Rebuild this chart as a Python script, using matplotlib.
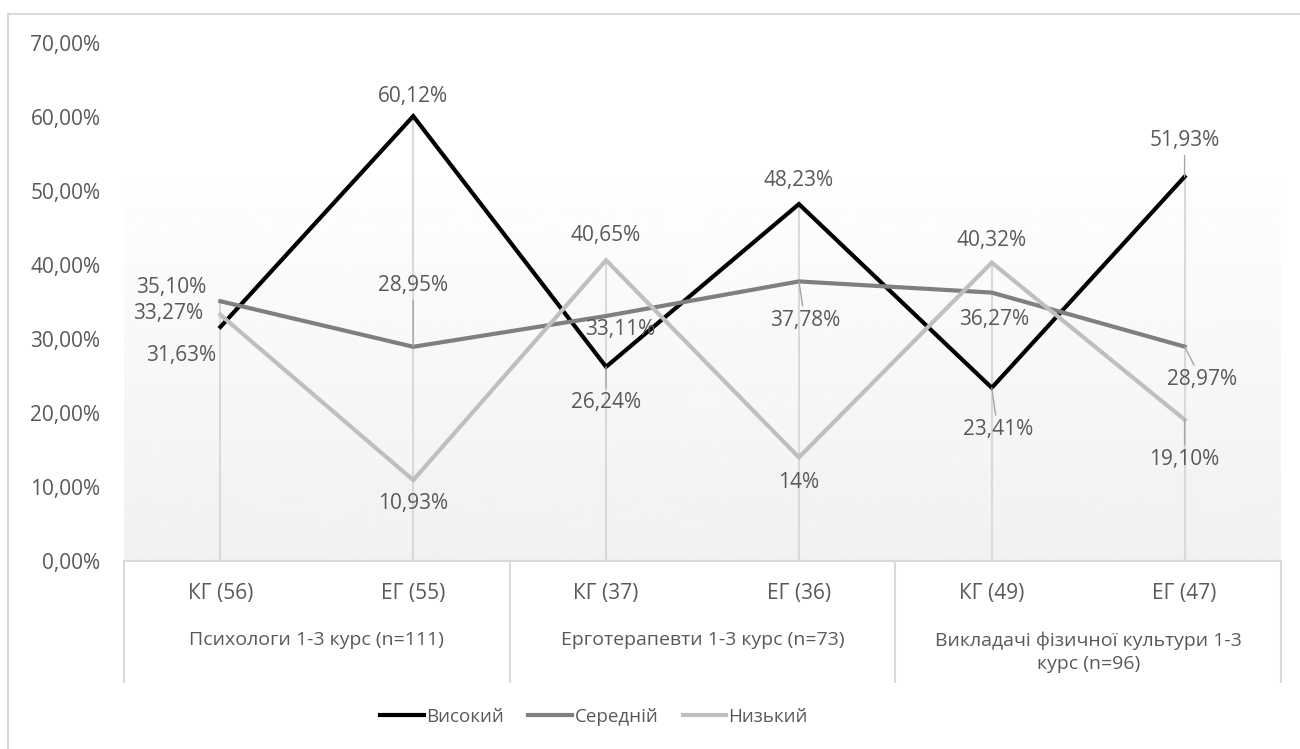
import numpy as np
import matplotlib
matplotlib.use("Agg")
import matplotlib.pyplot as plt
from matplotlib.lines import Line2D
from matplotlib.patches import Rectangle
from matplotlib.transforms import blended_transform_factory

plt.rcParams['font.family'] = ['Open Sans', 'DejaVu Sans']

# data
sub_labels = ['КГ (56)', 'ЕГ (55)', 'КГ (37)', 'ЕГ (36)', 'КГ (49)', 'ЕГ (47)']
group_labels = ['Психологи 1-3 курс (n=111)', 'Ерготерапевти 1-3 курс (n=73)',
                'Викладачі фізичної культури 1-3\nкурс (n=96)']
series_names = ['Високий', 'Середній', 'Низький']
high = [31.63, 60.12, 26.24, 48.23, 23.41, 51.93]
mid = [35.10, 28.95, 33.11, 37.78, 36.27, 28.97]
low = [33.27, 10.93, 40.65, 14.00, 40.32, 19.10]
high_txt = ['31,63%', '60,12%', '26,24%', '48,23%', '23,41%', '51,93%']
mid_txt = ['35,10%', '28,95%', '33,11%', '37,78%', '36,27%', '28,97%']
low_txt = ['33,27%', '10,93%', '40,65%', '14%', '40,32%', '19,10%']
y_ticks = [0, 10, 20, 30, 40, 50, 60, 70]

colors = ['#000000', '#7f7f7f', '#bfbfbf']
text_col = '#595959'
grid_col = '#d9d9d9'
fs = 15

# label offsets in pixels (dx, dy) and whether a leader line is drawn
high_off = [(-39, -29, 0), (0, 20, 0), (0, -36, 1), (0, 24, 0), (6, -42, 1), (0, 36, 1)]
mid_off = [(-49, 14, 0), (0, 61, 1), (14, -14, 0), (6, -39, 1), (2, -27, 0), (17, -33, 1)]
low_off = [(-52, 1, 0), (0, -23, 0), (0, 25, 0), (0, -25, 0), (0, 22, 0), (0, -40, 1)]

W, H = 1300, 749
fig = plt.figure(figsize=(W / 100, H / 100), dpi=100)
fig.patches.append(Rectangle((8 / W, -0.05), 1.1, 1.05 - 14 / H, transform=fig.transFigure,
                             fill=False, ec=grid_col, lw=1.5))

ax = fig.add_axes([124 / W, 1 - 561 / H, (1281 - 124) / W, (561 - 43) / H])
x = np.arange(len(sub_labels))
ax.set_xlim(-0.5, len(sub_labels) - 0.5)
ax.set_ylim(0, 70)

# gradient background: white at top, light gray at the bottom
f = np.linspace(0, 1, 256)
grad = (0.945 + 0.055 * np.clip(f / 0.8, 0, 1)).reshape(-1, 1)
ax.imshow(grad, extent=(-0.5, len(sub_labels) - 0.5, 0, 70), origin='lower',
          aspect='auto', cmap='gray', vmin=0, vmax=1, zorder=0, interpolation='bilinear')

# drop lines
tops = np.max([high, mid, low], axis=0)
ax.vlines(x, 0, tops, color=grid_col, lw=1.5, zorder=1)

for vals, c, name in zip([high, mid, low], colors, series_names):
    ax.plot(x, vals, color=c, lw=3, label=name, zorder=3, solid_joinstyle='miter')

for vals, txts, offs in [(high, high_txt, high_off), (mid, mid_txt, mid_off), (low, low_txt, low_off)]:
    for i, (v, t, (dx, dy, lead)) in enumerate(zip(vals, txts, offs)):
        kw = {}
        if lead:
            kw['arrowprops'] = dict(arrowstyle='-', color='#a6a6a6', lw=1, shrinkA=1, shrinkB=0)
        ax.annotate(t, (x[i], v), xytext=(dx, dy), textcoords='offset pixels',
                    ha='center', va='center', fontsize=fs, color=text_col, zorder=4, **kw)

ax.set_yticks(y_ticks)
ax.set_yticklabels([f'{t},00%' for t in y_ticks])
ax.tick_params(axis='y', length=0, pad=17, labelsize=fs, labelcolor=text_col)

ax.set_xticks(x)
ax.set_xticklabels(sub_labels)
ax.tick_params(axis='x', length=0, pad=16, labelsize=fs, labelcolor=text_col)

for s in ['top', 'right', 'left']:
    ax.spines[s].set_visible(False)
ax.spines['bottom'].set_color(grid_col)
ax.spines['bottom'].set_linewidth(1.5)

# group labels and separators
tr = blended_transform_factory(ax.transData, ax.transAxes)
for g, lab in enumerate(group_labels):
    cx = 2 * g + 0.5
    ax.text(cx, -0.136, lab, transform=tr, ha='center', va='top', fontsize=14,
            color=text_col, linespacing=1.35)
for sx in [-0.5, 1.5, 3.5, 5.5]:
    ax.plot([sx, sx], [0, -0.234], transform=tr, color=grid_col, lw=1.5, clip_on=False)

handles = [Line2D([0], [0], color=c, lw=3) for c in colors]
fig.legend(handles, series_names, loc='center', bbox_to_anchor=(0.457, 1 - 717 / H),
           ncol=3, frameon=False, fontsize=13.5, labelcolor=text_col,
           handlelength=2.3, handletextpad=0.15, columnspacing=1.3)

fig.savefig('out.png', dpi=100)
